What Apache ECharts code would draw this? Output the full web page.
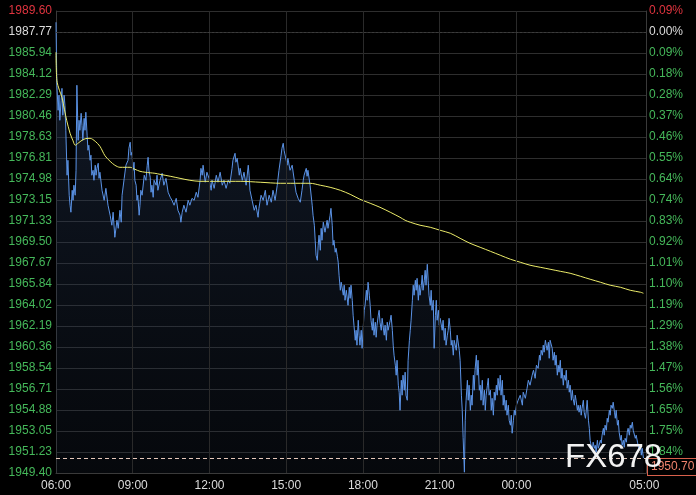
<!DOCTYPE html>
<html>
<head>
<meta charset="utf-8">
<script src="https://cdn.jsdelivr.net/npm/echarts/dist/echarts.min.js"></script>
<style>
html,body{margin:0;padding:0;background:#000;}
#c{width:696px;height:495px;}
</style>
</head>
<body>
<div id="c"></div>
<script>
// ---- data ----
const priceTicks = ['1989.60','1987.77','1985.94','1984.12','1982.29','1980.46','1978.63','1976.81','1974.98','1973.15','1971.33','1969.50','1967.67','1965.84','1964.02','1962.19','1960.36','1958.54','1956.71','1954.88','1953.05','1951.23','1949.40'];
const pctTicks = ['0.09%','0.00%','0.09%','0.18%','0.28%','0.37%','0.46%','0.55%','0.64%','0.74%','0.83%','0.92%','1.01%','1.10%','1.19%','1.29%','1.38%','1.47%','1.56%','1.65%','1.75%','1.84%','1.93%'];
const timeTickValues = [0,180,360,540,720,900,1080,1380];   // minutes after 06:00
const timeTickLabels = ['06:00','09:00','12:00','15:00','18:00','21:00','00:00','05:00'];
const priceMin = 1949.40, priceMax = 1989.60;
const prevClose = 1987.77;
const lastPrice = 1950.70;

// [minutes after 06:00, price]
const pricePoints = [
[0,1988.62],[2,1983.14],[5,1980.96],[7,1982.27],[9,1980.09],[12,1981.83],[14,1982.87],[16,1980.53],[19,1982.27],[21,1981.40],[23,1979.22],[26,1975.31],[28,1976.61],[31,1973.57],[33,1972.70],[35,1972.09],[38,1974.00],[40,1973.13],[42,1974.44],[45,1973.57],[47,1975.74],[49,1983.14],[52,1978.35],[54,1980.09],[56,1979.22],[59,1980.70],[61,1979.66],[63,1978.35],[66,1980.26],[68,1979.22],[70,1980.79],[73,1978.79],[75,1977.48],[77,1977.92],[80,1976.61],[82,1977.05],[84,1975.31],[87,1975.74],[89,1974.87],[92,1976.18],[94,1975.31],[96,1975.91],[99,1976.35],[101,1975.04],[103,1975.57],
[108,1974.00],[113,1973.13],[117,1974.17],[122,1972.70],[127,1971.83],[131,1970.96],[134,1972.09],[138,1969.91],[143,1971.39],[146,1970.69],[150,1972.26],[153,1971.22],[155,1973.57],[160,1975.04],[164,1976.18],[169,1976.61],[171,1977.65],[174,1978.18],[176,1977.05],[178,1977.31],[181,1975.74],[183,1976.44],[185,1974.87],[188,1974.44],[190,1973.13],[192,1973.57],[195,1971.83],[197,1972.70],[199,1974.00],[202,1973.57],[207,1975.31],[211,1974.87],[214,1976.18],[216,1976.87],[218,1975.74],[221,1975.13],[223,1973.83],[225,1974.44],[228,1973.39],[230,1974.87],[235,1974.44],[237,1975.31],[239,1974.00],[244,1974.87],
[249,1975.48],[253,1974.44],[258,1975.04],[263,1973.83],[268,1973.39],[272,1973.13],[277,1972.70],[282,1973.30],[286,1972.26],[291,1971.83],[293,1971.22],[296,1972.09],[300,1972.70],[305,1972.09],[310,1973.13],[314,1972.70],[319,1973.30],[324,1973.13],[329,1973.83],[333,1973.39],[338,1974.87],[340,1975.91],[343,1975.31],[345,1976.18],[350,1974.70],[354,1975.57],[359,1975.04],[364,1974.00],[366,1974.87],[371,1974.17],[376,1975.31],[380,1974.70],[385,1975.57],[390,1974.44],[394,1974.87],[399,1974.17],[404,1974.87],[408,1974.61],
[413,1975.91],[415,1976.61],[420,1977.22],[422,1976.44],[425,1976.78],[430,1975.31],[432,1975.91],[437,1974.87],[441,1975.57],[446,1974.44],[451,1976.18],[453,1975.31],[455,1974.00],[460,1973.13],[465,1972.26],[469,1972.70],[474,1971.65],[476,1972.43],[481,1973.57],[486,1973.13],[491,1974.00],[495,1972.70],[500,1973.57],[505,1972.96],[509,1974.00],[514,1973.13],[519,1974.44],[523,1975.74],[528,1977.05],[530,1977.65],[533,1978.09],[535,1977.48],[540,1976.61],[542,1976.18],[544,1976.78],[549,1975.74],[554,1976.18],[559,1974.87],[563,1973.83],[568,1973.30],[573,1972.96],[577,1974.00],
[580,1974.87],[582,1975.31],[587,1975.91],[589,1975.22],[591,1975.74],[596,1974.44],[601,1972.70],[603,1971.83],[606,1970.96],[608,1969.65],[610,1968.35],[613,1967.91],[615,1969.22],[617,1970.09],[620,1968.78],[622,1970.69],[624,1969.65],[627,1971.22],[631,1970.35],[636,1971.39],[638,1970.69],[643,1971.83],[645,1972.43],[648,1970.96],[650,1969.22],[652,1969.65],[655,1968.61],[657,1968.95],[660,1968.26],[662,1967.74],[664,1966.61],[667,1965.30],[669,1966.00],[674,1964.87],[676,1965.74],[678,1964.43],[681,1965.30],[685,1963.99],[688,1965.56],[690,1964.60],[692,1965.74],[695,1964.43],[697,1963.13],[699,1962.26],[702,1960.95],[704,1961.82],[706,1960.52],[709,1962.69],[711,1961.39],[713,1960.52],[716,1961.82],[718,1960.25],[721,1962.26],[723,1963.56],[725,1963.99],[728,1965.30],[730,1964.43],[732,1966.00],[735,1964.87],[737,1963.99],[739,1962.69],[742,1961.82],[744,1962.86],[746,1961.39],[749,1962.52],[751,1961.21],[753,1962.26],[756,1963.13],[758,1963.56],[760,1962.52],[763,1961.82],[765,1962.86],[770,1961.39],[772,1962.26],[775,1960.95],[777,1962.52],[779,1961.82],[784,1962.69],[786,1963.13],[789,1961.82],[791,1960.52],[793,1959.65],[796,1958.78],[798,1957.91],[800,1959.21],[803,1957.04],[805,1956.43],[807,1954.86],[810,1957.47],[812,1956.17],[814,1957.91],[817,1956.60],[819,1958.17],[821,1956.17],[824,1955.73],[826,1959.21],[829,1960.95],[831,1961.82],[833,1962.69],[836,1964.43],[838,1965.74],[840,1964.87],[843,1966.17],[845,1965.30],[847,1966.34],[850,1964.43],[852,1965.74],[854,1964.87],
[857,1965.74],[859,1966.61],[861,1965.30],[864,1966.17],[866,1967.04],[868,1965.74],[871,1967.56],[873,1966.17],[875,1964.87],[878,1963.99],[880,1965.30],[882,1963.56],[885,1964.43],[887,1960.25],[890,1963.13],[892,1964.43],[894,1962.69],[897,1963.56],[899,1962.26],[901,1962.86],[906,1961.82],[908,1962.69],[911,1960.95],[913,1962.00],[915,1960.52],[918,1961.39],[920,1961.82],[922,1962.86],[925,1961.82],[927,1960.52],[929,1960.95],[932,1959.65],[934,1960.95],[939,1960.08],[941,1961.39],[943,1961.56],[946,1960.08],[948,1959.21],[951,1956.17],[953,1954.86],[955,1952.51],[958,1949.47],[960,1953.99],[962,1955.73],[965,1957.47],[967,1955.73],[969,1957.04],[972,1954.86],[974,1956.17],[976,1955.30],[979,1957.91],[981,1956.60],[983,1958.34],[986,1959.65],[988,1957.91],[990,1959.21],[993,1956.60],[995,1957.04],[997,1955.73],[1000,1957.47],[1002,1955.30],[1005,1956.60],[1007,1954.86],[1009,1956.17],[1012,1957.04],[1014,1957.64],[1016,1956.17],[1019,1956.60],[1021,1954.86],[1023,1955.90],[1026,1954.43],[1028,1956.43],[1030,1955.73],[1033,1957.04],[1035,1956.17],[1037,1957.64],[1040,1956.60],[1042,1957.91],[1044,1956.17],[1047,1957.47],[1049,1955.30],[1051,1956.17],[1054,1954.86],[1056,1955.73],[1058,1954.43],[1061,1955.30],[1063,1953.99],[1066,1953.56],[1068,1954.43],[1070,1952.86],[1073,1953.99],[1075,1954.86],[1077,1954.43],[1080,1955.30],[1084,1955.73],[1089,1956.17],[1094,1955.30],[1096,1956.43],[1101,1955.90],[1105,1956.77],[1108,1957.47],[1112,1957.04],
[1117,1957.91],[1120,1958.34],[1124,1957.64],[1127,1958.78],[1131,1958.51],[1134,1959.65],[1136,1959.21],[1138,1960.08],[1141,1959.65],[1143,1960.52],[1145,1959.91],[1148,1960.95],[1150,1960.52],[1152,1960.08],[1155,1960.78],[1157,1959.38],[1159,1960.95],[1162,1961.12],[1164,1960.25],[1166,1959.21],[1169,1959.91],[1171,1958.78],[1173,1959.65],[1176,1957.91],[1178,1958.78],[1180,1958.17],[1183,1959.21],[1185,1957.64],[1187,1958.51],[1190,1957.04],[1192,1957.91],[1195,1957.47],[1197,1958.34],[1199,1956.77],[1202,1957.47],[1204,1956.43],[1206,1957.04],[1209,1955.73],[1211,1956.60],[1213,1955.90],[1216,1955.30],[1218,1956.17],[1220,1955.73],[1223,1954.86],[1225,1955.30],[1227,1954.69],[1230,1955.30],[1232,1954.43],[1234,1955.03],[1237,1955.73],[1239,1954.69],[1242,1954.16],[1244,1954.86],[1246,1955.73],[1249,1953.99],[1251,1953.29],[1253,1952.25],[1256,1951.64],[1258,1951.38],[1260,1952.08],[1263,1951.55],[1265,1951.81],[1267,1951.21],[1270,1952.25],[1272,1951.55],[1274,1951.81],[1277,1952.25],[1279,1951.99],[1281,1952.69],[1284,1953.29],[1286,1952.69],[1288,1953.56],[1291,1953.12],[1293,1954.16],[1295,1953.82],[1298,1954.86],[1300,1954.43],[1302,1955.30],[1305,1955.03],[1307,1955.56],[1310,1954.69],[1312,1954.16],[1314,1954.86],[1317,1953.56],[1319,1953.99],[1321,1952.95],[1324,1952.25],[1326,1952.69],[1328,1951.81],[1331,1952.25],[1333,1951.64],[1335,1952.42],[1338,1952.08],[1340,1952.95],[1342,1953.29],[1345,1952.69],[1347,1953.56],[1349,1953.29],[1352,1953.82],[1354,1953.12],[1357,1953.29],[1359,1952.42],[1361,1952.69],[1364,1952.08],[1366,1952.25],[1368,1951.38],[1371,1951.81],[1373,1950.95],[1375,1951.55],[1378,1950.70]
];

// average price line [minutes after 06:00, price]
const avgPoints = [
[0,1986.01],[2,1983.57],[8,1982.70],[14,1982.09],[20,1981.00],[25,1980.09],[33,1978.96],[40,1978.30],[45,1977.92],[52,1978.10],[61,1978.35],[70,1978.50],[80,1978.52],[92,1978.26],[103,1977.83],[115,1977.00],[127,1976.52],[138,1976.18],[150,1976.00],[162,1976.00],[174,1976.00],[185,1975.83],[197,1975.65],[209,1975.57],[221,1975.52],[232,1975.48],[244,1975.39],[268,1975.22],[291,1975.04],[314,1974.87],[338,1974.78],[385,1974.78],[432,1974.78],[479,1974.70],[526,1974.61],[573,1974.61],[596,1974.61],[620,1974.44],[643,1974.26],[667,1974.00],[690,1973.65],[713,1973.22],[737,1972.87],[760,1972.52],[784,1972.09],[807,1971.65],[819,1971.39],[831,1971.22],[854,1970.96],[878,1970.78],[901,1970.52],[925,1970.26],[948,1969.82],[971,1969.39],[995,1969.04],[1019,1968.69],[1042,1968.35],[1066,1968.00],[1089,1967.74],[1112,1967.48],[1136,1967.30],[1159,1967.13],[1183,1966.95],[1206,1966.78],[1230,1966.52],[1253,1966.26],[1277,1966.00],[1300,1965.74],[1324,1965.56],[1347,1965.30],[1371,1965.13],[1378,1965.04]
];

// ---- chart ----
const FONT = '"Liberation Sans", Arial, sans-serif';
const nTicks = priceTicks.length - 1;
function tickColor(v){
  const i = nTicks - Math.round(Number(v));
  if (i === 0) return '#e0343f';
  if (i === 1) return '#dcdcdc';
  return '#45b85a';
}
const chart = echarts.init(document.getElementById('c'));
chart.setOption({
  backgroundColor: '#000',
  animation: false,
  grid: {left: 56, right: 50, top: 11, bottom: 22},
  xAxis: [{
    type: 'value', min: 0, max: 1384, interval: 60,
    axisLine: {show: true, onZero: false, lineStyle: {color: '#3a3a3a'}},
    axisTick: {show: false},
    splitLine: {show: false},
    axisLabel: {
      color: '#dcdcdc', fontSize: 12, fontFamily: FONT, margin: 7,
      showMaxLabel: false,
      formatter: v => { const k = timeTickValues.indexOf(Math.round(v)); return k >= 0 ? timeTickLabels[k] : ''; }
    }
  }],
  yAxis: [
    {
      type: 'value', position: 'left', min: 0, max: nTicks, interval: 1,
      axisLine: {show: true, lineStyle: {color: '#3a3a3a'}},
      axisTick: {show: false},
      splitLine: {show: true, lineStyle: {color: '#2e2e2e', width: 1}},
      axisLabel: {fontSize: 12, fontFamily: FONT, margin: 4, color: tickColor,
        formatter: v => priceTicks[nTicks - Math.round(v)]}
    },
    {
      type: 'value', position: 'right', min: 0, max: nTicks, interval: 1,
      axisLine: {show: true, lineStyle: {color: '#3a3a3a'}},
      axisTick: {show: false},
      splitLine: {show: false},
      axisLabel: {fontSize: 12, fontFamily: FONT, margin: 3, color: tickColor,
        formatter: v => pctTicks[nTicks - Math.round(v)]}
    },
    {type: 'value', min: priceMin, max: priceMax, show: false}
  ],
  series: [
    {
      name: 'price', type: 'line', yAxisIndex: 2, data: pricePoints,
      showSymbol: false, symbol: 'none', sampling: null,
      lineStyle: {color: '#5b93e6', width: 1},
      areaStyle: {origin: 'start', color: new echarts.graphic.LinearGradient(0, 0, 0, 1, [
        {offset: 0, color: 'rgba(40,60,95,0.62)'},
        {offset: 1, color: 'rgba(30,42,62,0.28)'}
      ])},
      markLine: {
        silent: true, symbol: 'none', animation: false,
        data: [
          ...timeTickValues.slice(1, -1).map(v => ({xAxis: v, lineStyle: {color: '#2a2a2a', type: 'solid', width: 1}, label: {show: false}})),
          {yAxis: prevClose, lineStyle: {color: '#3c3c3c', type: [2, 2], width: 1}, label: {show: false}},
          {yAxis: lastPrice, lineStyle: {color: '#e6c8ba', type: [4, 3], width: 1},
           label: {show: true, position: 'end', distance: 2, offset: [0, 9],
             formatter: lastPrice.toFixed(2), color: '#f0846e', fontSize: 12, fontFamily: FONT,
             backgroundColor: '#000', borderColor: '#d8604c', borderWidth: 1, padding: [2, 6, 2, 3]}}
        ]
      },
      z: 2
    },
    {
      name: 'avg', type: 'line', yAxisIndex: 2, data: avgPoints,
      showSymbol: false, symbol: 'none', smooth: 0.3,
      lineStyle: {color: '#ecec6a', width: 1},
      z: 3
    }
  ],
  graphic: [{
    type: 'text', left: 565, top: 441, z: 100, silent: true,
    style: {text: 'FX678', fill: '#f2f2f2', font: '33px "Liberation Sans", Arial, sans-serif'}
  }]
});
</script>
</body>
</html>
